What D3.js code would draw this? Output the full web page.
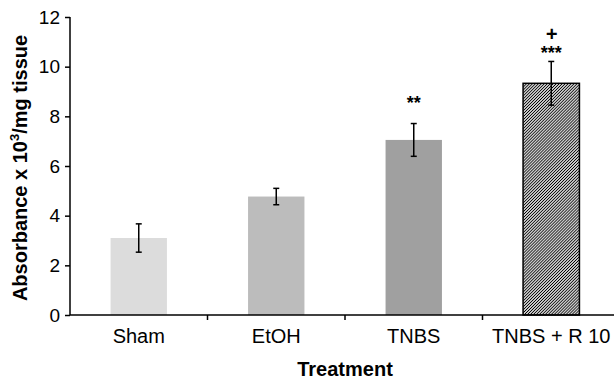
<!DOCTYPE html>
<html>
<head>
<meta charset="utf-8">
<script src="https://cdn.jsdelivr.net/npm/d3@7"></script>
<style>
  body { margin: 0; background: #fff; }
  svg { display: block; font-family: "Liberation Sans", Arial, sans-serif; }
</style>
</head>
<body>
<div id="chart"></div>
<script>
const categories = ["Sham", "EtOH", "TNBS", "TNBS + R 10"]
const means = [3.1, 4.77, 7.05, 9.33]
const errors = [0.57, 0.33, 0.66, 0.88]
const fills = ["#dcdcdc", "#bcbcbc", "#a0a0a0", "url(#hatch)"]
const stars = ["", "", "**", "***"]
const starLevels = [0, 0, 8.3, 10.3]
const plusMarks = ["", "", "", "+"]
const plusLevels = [0, 0, 0, 11.05]
const yTicks = [0, 2, 4, 6, 8, 10, 12]

const width = 614, height = 380

const svg = d3.select("#chart").append("svg")
  .attr("width", width)
  .attr("height", height)

// diagonal hatch for the last bar
const hs = 2.1
svg.append("defs").append("pattern")
  .attr("id", "hatch")
  .attr("patternUnits", "userSpaceOnUse")
  .attr("width", hs)
  .attr("height", hs)
  .attr("patternTransform", "rotate(45)")
  .call(p => p.append("rect").attr("width", hs).attr("height", hs).attr("fill", "#fff"))
  .append("line")
  .attr("x1", hs / 2).attr("y1", 0).attr("x2", hs / 2).attr("y2", hs)
  .attr("stroke", "#000")
  .attr("stroke-width", 1)

const x = d3.scaleBand()
  .domain(categories)
  .range([70, 620])
  .paddingInner(0.59)
  .paddingOuter(0.295)

const y = d3.scaleLinear().domain([0, 12]).range([315, 17])

// bars
svg.append("g")
  .selectAll("rect")
  .data(categories)
  .join("rect")
  .attr("x", d => x(d))
  .attr("y", (d, i) => y(means[i]))
  .attr("width", x.bandwidth())
  .attr("height", (d, i) => y(0) - y(means[i]))
  .attr("fill", (d, i) => fills[i])
  .attr("stroke", (d, i) => i === 3 ? "#000" : "none")
  .attr("stroke-width", 1.5)

// error bars
const eb = svg.append("g")
  .attr("stroke", "#000")
  .attr("stroke-width", 1.5)
  .selectAll("g")
  .data(categories)
  .join("g")
  .attr("transform", d => `translate(${x(d) + x.bandwidth() / 2},0)`)

eb.append("line")
  .attr("y1", (d, i) => y(means[i] - errors[i]))
  .attr("y2", (d, i) => y(means[i] + errors[i]))
eb.append("line")
  .attr("x1", -3).attr("x2", 3)
  .attr("y1", (d, i) => y(means[i] + errors[i]))
  .attr("y2", (d, i) => y(means[i] + errors[i]))
eb.append("line")
  .attr("x1", -3).attr("x2", 3)
  .attr("y1", (d, i) => y(means[i] - errors[i]))
  .attr("y2", (d, i) => y(means[i] - errors[i]))

// significance marks
svg.append("g")
  .selectAll("text")
  .data(categories)
  .join("text")
  .attr("x", d => x(d) + x.bandwidth() / 2)
  .attr("y", (d, i) => y(starLevels[i]))
  .attr("text-anchor", "middle")
  .attr("font-size", 18)
  .attr("font-weight", "bold")
  .text((d, i) => stars[i])

svg.append("g")
  .selectAll("text")
  .data(categories)
  .join("text")
  .attr("x", d => x(d) + x.bandwidth() / 2)
  .attr("y", (d, i) => y(plusLevels[i]))
  .attr("text-anchor", "middle")
  .attr("font-size", 20)
  .attr("font-weight", "bold")
  .attr("font-style", "italic")
  .text((d, i) => plusMarks[i])

// y axis
const yAxis = svg.append("g")
  .attr("transform", "translate(70,0)")
  .call(d3.axisLeft(y).tickValues(yTicks).tickSize(5).tickPadding(5))
yAxis.select(".domain").attr("stroke-width", 1.5).attr("d", `M0,${y(12)}V${y(0)}`)
yAxis.selectAll(".tick line").attr("stroke-width", 1.5)
yAxis.selectAll("text")
  .attr("font-size", 19)
  .attr("font-family", "Liberation Sans, Arial, sans-serif")
  .attr("fill", "#000")

// x axis
svg.append("line")
  .attr("x1", 70).attr("x2", width)
  .attr("y1", y(0)).attr("y2", y(0))
  .attr("stroke", "#000")
  .attr("stroke-width", 1.5)

const gap = x.step() - x.bandwidth()
svg.append("g")
  .selectAll("line")
  .data(categories.slice(1))
  .join("line")
  .attr("x1", d => x(d) - gap / 2)
  .attr("x2", d => x(d) - gap / 2)
  .attr("y1", y(0))
  .attr("y2", y(0) + 5)
  .attr("stroke", "#000")
  .attr("stroke-width", 1.5)

svg.append("g")
  .selectAll("text")
  .data(categories)
  .join("text")
  .attr("x", d => x(d) + x.bandwidth() / 2)
  .attr("y", 343)
  .attr("text-anchor", "middle")
  .attr("font-size", 20)
  .text(d => d)

// axis titles
svg.append("text")
  .attr("x", 345)
  .attr("y", 376)
  .attr("text-anchor", "middle")
  .attr("font-size", 20)
  .attr("font-weight", "bold")
  .text("Treatment")

const yTitle = svg.append("text")
  .attr("transform", "translate(27,168) rotate(-90)")
  .attr("text-anchor", "middle")
  .attr("font-size", 20)
  .attr("font-weight", "bold")
yTitle.append("tspan").text("Absorbance x 10")
yTitle.append("tspan").attr("font-size", 13).attr("dy", -8).text("3")
yTitle.append("tspan").attr("dy", 8).text("/mg tissue")
</script>
</body>
</html>
